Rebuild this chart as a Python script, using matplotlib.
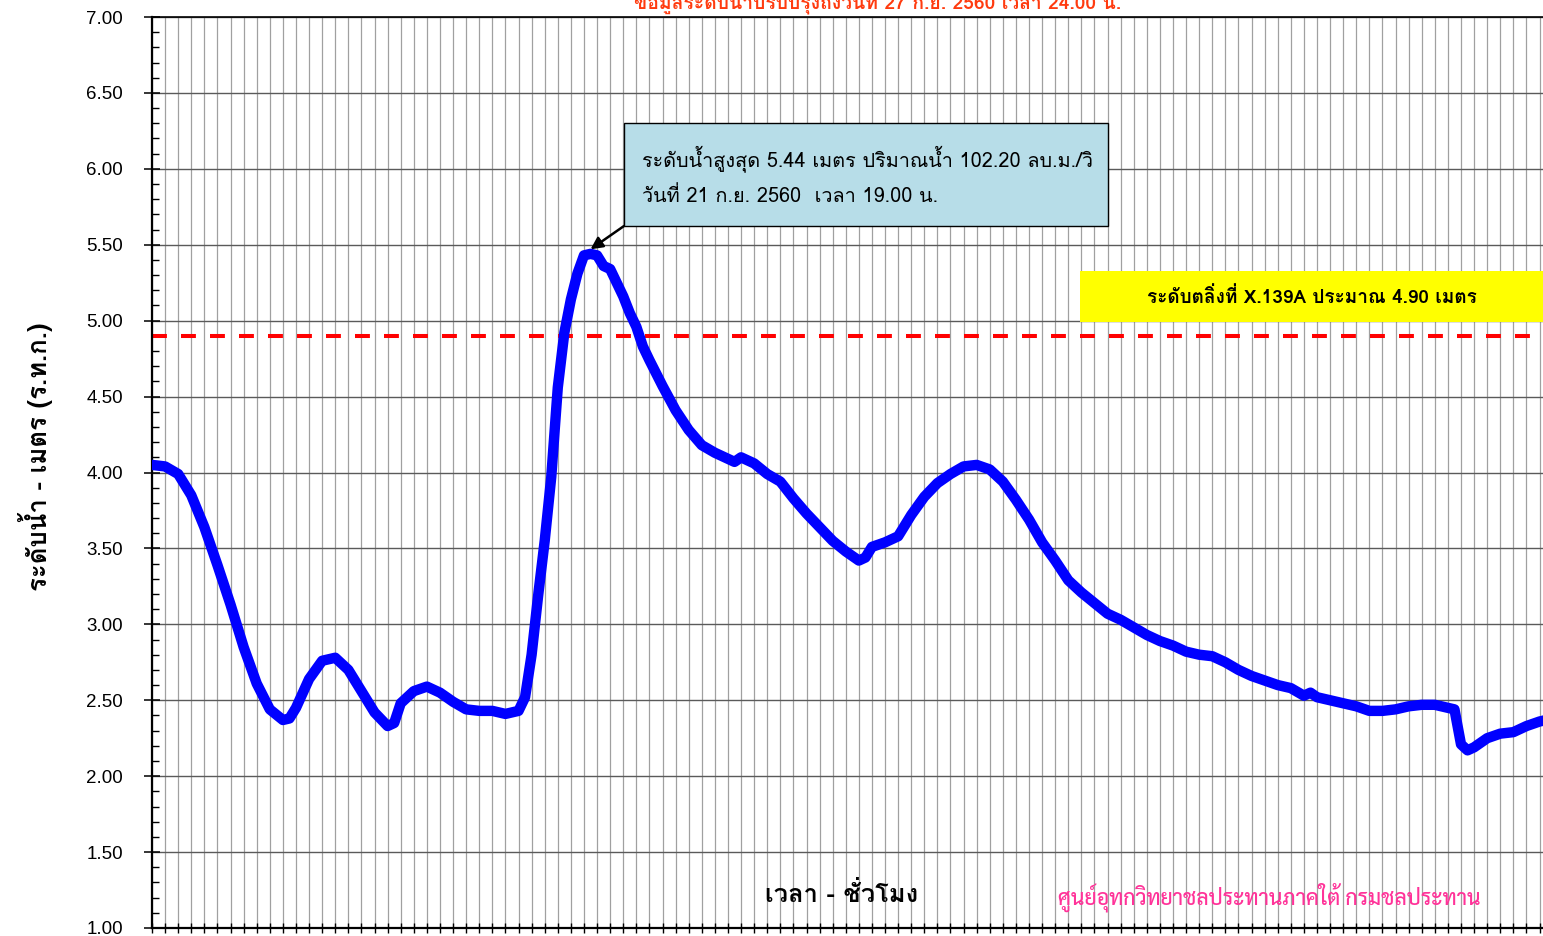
import matplotlib
matplotlib.use('Agg')
import matplotlib.pyplot as plt
from matplotlib import font_manager as fm
from matplotlib.ft2font import FT2Font
from matplotlib.ticker import MultipleLocator
from matplotlib.patches import Rectangle

# ---------------- data ----------------
hours = [0, 2, 4, 6, 8, 10, 12, 14, 16, 18, 20, 21, 22, 24, 26, 28, 30, 32, 34, 36, 37, 38,
         40, 42, 44, 46, 48, 50, 52, 54, 56, 57, 58, 59, 60, 61, 62, 63, 64, 65, 66, 67, 68,
         69, 70, 71, 72, 73, 74, 75, 76, 78, 80, 82, 84, 86, 88, 89, 90, 92, 94, 96, 98, 100,
         102, 104, 106, 108, 109, 110, 112, 114, 116, 118, 120, 122, 124, 126, 128, 130, 132,
         134, 136, 138, 140, 142, 144, 146, 148, 150, 152, 154, 156, 158, 160, 162, 164, 166,
         168, 170, 172, 174, 176, 177, 178, 180, 182, 184, 186, 188, 190, 192, 194, 196, 198,
         199, 200, 201, 202, 204, 206, 208, 210, 212, 213]
levels = [4.05, 4.04, 3.99, 3.85, 3.64, 3.39, 3.13, 2.85, 2.61, 2.44, 2.37, 2.38, 2.45, 2.64,
          2.76, 2.78, 2.70, 2.56, 2.42, 2.33, 2.35, 2.48, 2.56, 2.59, 2.55, 2.49, 2.44, 2.43,
          2.43, 2.41, 2.43, 2.52, 2.80, 3.19, 3.55, 3.97, 4.56, 4.92, 5.14, 5.31, 5.43, 5.44,
          5.43, 5.36, 5.34, 5.25, 5.16, 5.05, 4.96, 4.83, 4.74, 4.57, 4.41, 4.28, 4.18, 4.13,
          4.09, 4.07, 4.10, 4.06, 3.99, 3.94, 3.83, 3.73, 3.64, 3.55, 3.48, 3.42, 3.44, 3.51,
          3.54, 3.58, 3.72, 3.84, 3.93, 3.99, 4.04, 4.05, 4.02, 3.94, 3.82, 3.69, 3.54, 3.42,
          3.29, 3.21, 3.14, 3.07, 3.03, 2.98, 2.93, 2.89, 2.86, 2.82, 2.80, 2.79, 2.75, 2.70,
          2.66, 2.63, 2.60, 2.58, 2.53, 2.55, 2.52, 2.50, 2.48, 2.46, 2.43, 2.43, 2.44, 2.46,
          2.47, 2.47, 2.45, 2.44, 2.21, 2.17, 2.19, 2.25, 2.28, 2.29, 2.33, 2.36, 2.37]
bank_level = 4.90
y_ticks = [1.0, 1.5, 2.0, 2.5, 3.0, 3.5, 4.0, 4.5, 5.0, 5.5, 6.0, 6.5, 7.0]
x_grid_hours = list(range(0, 217, 2))

title_text = "ข้อมูลระดับน้ำปรับปรุงถึงวันที่ 27 ก.ย. 2560 เวลา 24.00 น."
peak_line1 = "ระดับน้ำสูงสุด 5.44 เมตร ปริมาณน้ำ 102.20 ลบ.ม./วิ"
peak_line2 = "วันที่ 21 ก.ย. 2560  เวลา 19.00 น."
bank_text = "ระดับตลิ่งที่ X.139A ประมาณ 4.90 เมตร"
ylabel_text = "ระดับน้ำ - เมตร (ร.ท.ก.)"
xlabel_text = "เวลา - ชั่วโมง"
credit_text = "ศูนย์อุทกวิทยาชลประทานภาคใต้ กรมชลประทาน"
peak_hour, peak_level = 67, 5.44

# ---------------- fonts ----------------
def thai_fonts():
    out = set()
    for f in fm.fontManager.ttflist:
        try:
            cm = FT2Font(f.fname).get_charmap()
        except Exception:
            continue
        if 0x0E01 in cm:
            out.add(f.name)
    return out

thai = thai_fonts()

def pick(prefs):
    for p in prefs:
        if p in thai:
            return [p, 'Liberation Sans', 'DejaVu Sans']
    return ['Liberation Sans', 'DejaVu Sans']

FAM = pick(['Tahoma', 'Loma', 'IBM Plex Sans Thai Looped', 'Noto Sans Thai'])
FAM_COND = pick(['Sarabun', 'Loma', 'Noto Sans Thai'])
plt.rcParams['font.family'] = ['Liberation Sans', 'DejaVu Sans']

W, H = 1543, 936
fig = plt.figure(figsize=(W / 100, H / 100), dpi=100)

px_per_hour = 6.545
left_px, top_px, bottom_px = 152, 17, 928
ax = fig.add_axes([left_px / W, (H - bottom_px) / H,
                   216 * px_per_hour / W, (bottom_px - top_px) / H])
ax.set_xlim(0, 216)
ax.set_ylim(1, 7)

ax.set_xticks(x_grid_hours)
ax.set_xticklabels([])
ax.set_yticks(y_ticks)
ax.set_yticklabels([f"{v:.2f}" for v in y_ticks])
ax.yaxis.set_minor_locator(MultipleLocator(0.1))
ax.grid(axis='x', which='major', color='#a0a0a0', lw=0.9, zorder=0)
ax.grid(axis='y', which='major', color='#5a5a5a', lw=1.0, zorder=0)
ax.set_axisbelow(True)

ax.tick_params(axis='x', which='major', direction='inout', length=6.5, width=1, color='black')
ax.tick_params(axis='y', which='major', direction='inout', length=11.5, width=1.1,
               pad=15, labelsize=13.5, color='black')
ax.tick_params(axis='y', which='minor', direction='in', length=5, width=1, color='black')
for s in ['left', 'bottom']:
    ax.spines[s].set_linewidth(1.6)
ax.spines['top'].set_linewidth(1.2)
ax.spines['right'].set_visible(False)

ax.axhline(bank_level, color='#ff0000', lw=2.9, dashes=(3.7, 3.5), zorder=2)
ax.plot(hours, levels, color='#0000ff', lw=7.5, solid_joinstyle='round',
        solid_capstyle='round', zorder=3)

# peak annotation
fig.patches.append(Rectangle((624 / W, 1 - 226 / H), 484 / W, 103 / H,
                             transform=fig.transFigure, facecolor='#b7dde8',
                             edgecolor='black', lw=1.0, zorder=5))
fig.text(642.5 / W, 1 - 166.5 / H, peak_line1, family=FAM, fontsize=14.3, va='baseline',
         ha='left', zorder=6)
fig.text(642.5 / W, 1 - 201.5 / H, peak_line2, family=FAM, fontsize=14.3, va='baseline',
         ha='left', zorder=6)
ax.annotate('', xy=(peak_hour, peak_level + 0.03), xycoords='data',
            xytext=(624 / W, 1 - 226 / H), textcoords='figure fraction',
            arrowprops=dict(arrowstyle='-|>', color='black', lw=1.8, mutation_scale=18,
                            shrinkA=0, shrinkB=0), zorder=6)

# bank level label
fig.patches.append(Rectangle((1080 / W, 1 - 322 / H), (W - 1080) / W, 51 / H,
                             transform=fig.transFigure, facecolor='#ffff00',
                             edgecolor='none', zorder=5))
fig.text(1312 / W, 1 - 297 / H, bank_text, family=FAM, fontsize=13.7, weight='bold',
         ha='center', va='center', zorder=6)

# title (cropped at top as in the source)
fig.text(878 / W, 1 - 9 / H, title_text, family=FAM, fontsize=13.9, weight='bold',
         color='#ff3b0f', ha='center', va='baseline')

# axis labels and credit
fig.text(36 / W, 1 - 457 / H, ylabel_text, family=FAM, fontsize=18.5, weight='bold',
         rotation=90, ha='center', va='center')
fig.text(842 / W, 1 - 895 / H, xlabel_text, family=FAM, fontsize=18.4, weight='bold',
         ha='center', va='center')
fig.text(1269 / W, 1 - 897 / H, credit_text, family=FAM_COND, fontsize=15.3, color='#ff3399',
         weight='medium', ha='center', va='center')

fig.savefig('out.png', dpi=100)
